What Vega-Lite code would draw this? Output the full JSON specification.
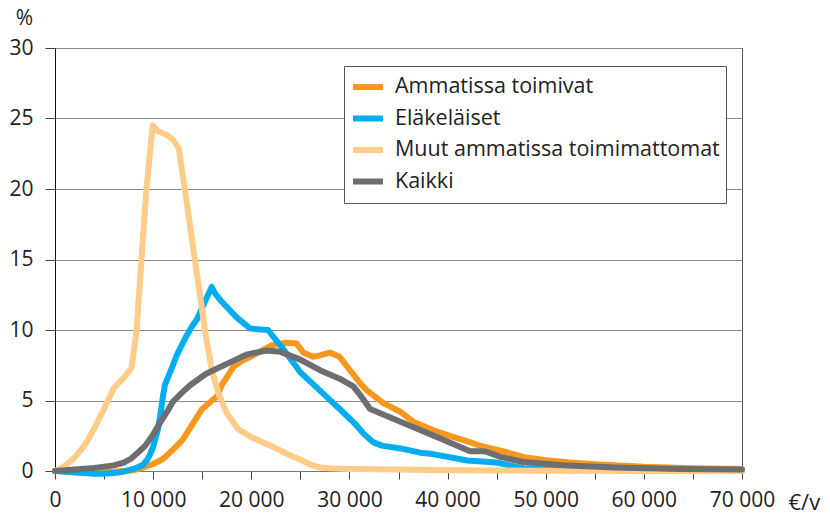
{
  "$schema": "https://vega.github.io/schema/vega-lite/v6.json",
  "width": 687,
  "height": 423,
  "autosize": {"type": "none"},
  "padding": {"left": 55, "top": 48, "right": 88, "bottom": 43},
  "background": "white",
  "config": {"view": {"stroke": "#555", "strokeWidth": 1}, "font": "Open Sans"},
  "data": {
    "values": [
      {"g":"Ammatissa toimivat","x":0,"y":0},{"g":"Ammatissa toimivat","x":2000,"y":0},{"g":"Ammatissa toimivat","x":4000,"y":-0.05},{"g":"Ammatissa toimivat","x":6000,"y":-0.05},{"g":"Ammatissa toimivat","x":7000,"y":0},{"g":"Ammatissa toimivat","x":8000,"y":0.05},{"g":"Ammatissa toimivat","x":9000,"y":0.25},{"g":"Ammatissa toimivat","x":10000,"y":0.5},{"g":"Ammatissa toimivat","x":11000,"y":0.85},{"g":"Ammatissa toimivat","x":12000,"y":1.5},{"g":"Ammatissa toimivat","x":13000,"y":2.2},{"g":"Ammatissa toimivat","x":14000,"y":3.3},{"g":"Ammatissa toimivat","x":15000,"y":4.4},{"g":"Ammatissa toimivat","x":16000,"y":5.0},{"g":"Ammatissa toimivat","x":16500,"y":5.3},{"g":"Ammatissa toimivat","x":17000,"y":6.1},{"g":"Ammatissa toimivat","x":18200,"y":7.4},{"g":"Ammatissa toimivat","x":19000,"y":7.8},{"g":"Ammatissa toimivat","x":19900,"y":8.1},{"g":"Ammatissa toimivat","x":21000,"y":8.5},{"g":"Ammatissa toimivat","x":22000,"y":8.9},{"g":"Ammatissa toimivat","x":23600,"y":9.1},{"g":"Ammatissa toimivat","x":24600,"y":9.05},{"g":"Ammatissa toimivat","x":25300,"y":8.4},{"g":"Ammatissa toimivat","x":26300,"y":8.1},{"g":"Ammatissa toimivat","x":27000,"y":8.2},{"g":"Ammatissa toimivat","x":28000,"y":8.4},{"g":"Ammatissa toimivat","x":29000,"y":8.1},{"g":"Ammatissa toimivat","x":30000,"y":7.2},{"g":"Ammatissa toimivat","x":31000,"y":6.3},{"g":"Ammatissa toimivat","x":31800,"y":5.7},{"g":"Ammatissa toimivat","x":33500,"y":4.8},{"g":"Ammatissa toimivat","x":35200,"y":4.2},{"g":"Ammatissa toimivat","x":36500,"y":3.5},{"g":"Ammatissa toimivat","x":38500,"y":2.9},{"g":"Ammatissa toimivat","x":40000,"y":2.55},{"g":"Ammatissa toimivat","x":42000,"y":2.1},{"g":"Ammatissa toimivat","x":43300,"y":1.8},{"g":"Ammatissa toimivat","x":45400,"y":1.45},{"g":"Ammatissa toimivat","x":47700,"y":1.0},{"g":"Ammatissa toimivat","x":50000,"y":0.76},{"g":"Ammatissa toimivat","x":52500,"y":0.6},{"g":"Ammatissa toimivat","x":55000,"y":0.48},{"g":"Ammatissa toimivat","x":60000,"y":0.3},{"g":"Ammatissa toimivat","x":65000,"y":0.2},{"g":"Ammatissa toimivat","x":70000,"y":0.15},

      {"g":"Eläkeläiset","x":0,"y":0},{"g":"Eläkeläiset","x":1000,"y":-0.05},{"g":"Eläkeläiset","x":2000,"y":-0.1},{"g":"Eläkeläiset","x":3000,"y":-0.15},{"g":"Eläkeläiset","x":4000,"y":-0.2},{"g":"Eläkeläiset","x":5000,"y":-0.2},{"g":"Eläkeläiset","x":6000,"y":-0.15},{"g":"Eläkeläiset","x":7000,"y":-0.05},{"g":"Eläkeläiset","x":8000,"y":0.15},{"g":"Eläkeläiset","x":9000,"y":0.45},{"g":"Eläkeläiset","x":9500,"y":0.9},{"g":"Eläkeläiset","x":10000,"y":1.7},{"g":"Eläkeläiset","x":10500,"y":3.0},{"g":"Eläkeläiset","x":10800,"y":4.3},{"g":"Eläkeläiset","x":11000,"y":5.3},{"g":"Eläkeläiset","x":11200,"y":6.1},{"g":"Eläkeläiset","x":11900,"y":7.3},{"g":"Eläkeläiset","x":12400,"y":8.2},{"g":"Eläkeläiset","x":13250,"y":9.4},{"g":"Eläkeläiset","x":14000,"y":10.3},{"g":"Eläkeläiset","x":14500,"y":10.8},{"g":"Eläkeläiset","x":15000,"y":11.6},{"g":"Eläkeläiset","x":15970,"y":13.05},{"g":"Eläkeläiset","x":16300,"y":12.6},{"g":"Eläkeläiset","x":17000,"y":12.0},{"g":"Eläkeläiset","x":18500,"y":10.9},{"g":"Eläkeläiset","x":19900,"y":10.1},{"g":"Eläkeläiset","x":21700,"y":10.0},{"g":"Eläkeläiset","x":23300,"y":8.6},{"g":"Eläkeläiset","x":25000,"y":7.0},{"g":"Eläkeläiset","x":27000,"y":5.7},{"g":"Eläkeläiset","x":29000,"y":4.4},{"g":"Eläkeläiset","x":30500,"y":3.4},{"g":"Eläkeläiset","x":31500,"y":2.6},{"g":"Eläkeläiset","x":32400,"y":2.05},{"g":"Eläkeläiset","x":33300,"y":1.8},{"g":"Eläkeläiset","x":35200,"y":1.6},{"g":"Eläkeläiset","x":37200,"y":1.3},{"g":"Eläkeläiset","x":38500,"y":1.2},{"g":"Eläkeläiset","x":42000,"y":0.75},{"g":"Eläkeläiset","x":45000,"y":0.6},{"g":"Eläkeläiset","x":47700,"y":0.2},{"g":"Eläkeläiset","x":50000,"y":0.15},{"g":"Eläkeläiset","x":55000,"y":0.1},{"g":"Eläkeläiset","x":60000,"y":0.05},{"g":"Eläkeläiset","x":70000,"y":0.0},

      {"g":"Muut ammatissa toimimattomat","x":0,"y":0},{"g":"Muut ammatissa toimimattomat","x":1000,"y":0.35},{"g":"Muut ammatissa toimimattomat","x":2000,"y":0.95},{"g":"Muut ammatissa toimimattomat","x":3000,"y":1.8},{"g":"Muut ammatissa toimimattomat","x":4000,"y":3.0},{"g":"Muut ammatissa toimimattomat","x":5000,"y":4.4},{"g":"Muut ammatissa toimimattomat","x":6000,"y":5.9},{"g":"Muut ammatissa toimimattomat","x":7000,"y":6.6},{"g":"Muut ammatissa toimimattomat","x":7800,"y":7.3},{"g":"Muut ammatissa toimimattomat","x":8300,"y":9.9},{"g":"Muut ammatissa toimimattomat","x":8800,"y":14.9},{"g":"Muut ammatissa toimimattomat","x":9300,"y":19.9},{"g":"Muut ammatissa toimimattomat","x":9950,"y":24.5},{"g":"Muut ammatissa toimimattomat","x":10500,"y":24.1},{"g":"Muut ammatissa toimimattomat","x":11500,"y":23.8},{"g":"Muut ammatissa toimimattomat","x":12000,"y":23.5},{"g":"Muut ammatissa toimimattomat","x":12600,"y":22.9},{"g":"Muut ammatissa toimimattomat","x":13250,"y":19.9},{"g":"Muut ammatissa toimimattomat","x":14270,"y":14.9},{"g":"Muut ammatissa toimimattomat","x":15000,"y":11.4},{"g":"Muut ammatissa toimimattomat","x":15300,"y":9.9},{"g":"Muut ammatissa toimimattomat","x":16000,"y":7.1},{"g":"Muut ammatissa toimimattomat","x":16650,"y":5.5},{"g":"Muut ammatissa toimimattomat","x":17500,"y":4.1},{"g":"Muut ammatissa toimimattomat","x":18700,"y":2.95},{"g":"Muut ammatissa toimimattomat","x":20000,"y":2.4},{"g":"Muut ammatissa toimimattomat","x":22250,"y":1.7},{"g":"Muut ammatissa toimimattomat","x":24000,"y":1.1},{"g":"Muut ammatissa toimimattomat","x":25000,"y":0.8},{"g":"Muut ammatissa toimimattomat","x":26000,"y":0.45},{"g":"Muut ammatissa toimimattomat","x":27000,"y":0.25},{"g":"Muut ammatissa toimimattomat","x":28000,"y":0.2},{"g":"Muut ammatissa toimimattomat","x":30000,"y":0.15},{"g":"Muut ammatissa toimimattomat","x":35000,"y":0.1},{"g":"Muut ammatissa toimimattomat","x":40000,"y":0.05},{"g":"Muut ammatissa toimimattomat","x":45000,"y":0.03},{"g":"Muut ammatissa toimimattomat","x":50000,"y":0.02},{"g":"Muut ammatissa toimimattomat","x":60000,"y":0.0},{"g":"Muut ammatissa toimimattomat","x":70000,"y":0.0},

      {"g":"Kaikki","x":0,"y":0},{"g":"Kaikki","x":2000,"y":0.1},{"g":"Kaikki","x":4000,"y":0.22},{"g":"Kaikki","x":6000,"y":0.4},{"g":"Kaikki","x":7000,"y":0.6},{"g":"Kaikki","x":7800,"y":0.9},{"g":"Kaikki","x":8600,"y":1.4},{"g":"Kaikki","x":9200,"y":1.8},{"g":"Kaikki","x":10000,"y":2.6},{"g":"Kaikki","x":10600,"y":3.3},{"g":"Kaikki","x":11500,"y":4.3},{"g":"Kaikki","x":12000,"y":4.9},{"g":"Kaikki","x":13000,"y":5.6},{"g":"Kaikki","x":13800,"y":6.1},{"g":"Kaikki","x":15400,"y":6.9},{"g":"Kaikki","x":17500,"y":7.6},{"g":"Kaikki","x":19500,"y":8.25},{"g":"Kaikki","x":21500,"y":8.55},{"g":"Kaikki","x":23000,"y":8.45},{"g":"Kaikki","x":25000,"y":7.9},{"g":"Kaikki","x":27000,"y":7.15},{"g":"Kaikki","x":29000,"y":6.55},{"g":"Kaikki","x":30400,"y":6.0},{"g":"Kaikki","x":31300,"y":5.2},{"g":"Kaikki","x":32100,"y":4.4},{"g":"Kaikki","x":35200,"y":3.5},{"g":"Kaikki","x":38600,"y":2.5},{"g":"Kaikki","x":42300,"y":1.4},{"g":"Kaikki","x":43800,"y":1.4},{"g":"Kaikki","x":45400,"y":1.0},{"g":"Kaikki","x":47700,"y":0.64},{"g":"Kaikki","x":51800,"y":0.4},{"g":"Kaikki","x":57000,"y":0.25},{"g":"Kaikki","x":63700,"y":0.15},{"g":"Kaikki","x":70000,"y":0.1}
    ]
  },
  "mark": {"type": "line", "strokeWidth": 6, "strokeCap": "round", "strokeJoin": "round", "interpolate": "linear"},
  "encoding": {
    "x": {
      "field": "x", "type": "quantitative",
      "scale": {"domain": [0, 70000], "nice": false, "zero": false},
      "axis": {
        "values": [0,5000,10000,15000,20000,25000,30000,35000,40000,45000,50000,55000,60000,65000,70000],
        "labelExpr": "datum.value % 10000 === 0 ? replace(format(datum.value, ','), ',', ' ') : ''",
        "grid": false, "domainColor": "#777", "tickColor": "#444", "tickSize": 8,
        "labelFontSize": 21, "labelColor": "#222", "labelPadding": 10, "labelFlush": false, "labelOverlap": false,
        "title": "€/v", "titleX": 733, "titleY": 31, "titleAlign": "left", "titleBaseline": "middle",
        "titleFontSize": 22, "titleFontWeight": "normal", "titleColor": "#222"
      }
    },
    "y": {
      "field": "y", "type": "quantitative",
      "scale": {"domain": [0, 30], "nice": false},
      "axis": {
        "values": [0,5,10,15,20,25,30],
        "grid": true, "gridColor": "#888", "gridWidth": 1.2,
        "domainColor": "#111", "tickColor": "#444", "tickSize": 10,
        "labelFontSize": 21, "labelColor": "#222", "labelPadding": 12,
        "title": "%", "titleAngle": 0, "titleX": -31, "titleY": -30, "titleAlign": "center", "titleBaseline": "middle",
        "titleFontSize": 21, "titleFontWeight": "normal", "titleColor": "#222"
      }
    },
    "color": {
      "field": "g", "type": "nominal",
      "scale": {
        "domain": ["Ammatissa toimivat", "Eläkeläiset", "Muut ammatissa toimimattomat", "Kaikki"],
        "range": ["#F7981D", "#00AEEF", "#FFCC8A", "#6D6E71"]
      },
      "legend": {
        "orient": "none", "legendX": 289, "legendY": 18, "title": null,
        "symbolType": "stroke", "symbolSize": 900, "symbolStrokeWidth": 6,
        "labelFontSize": 21.5, "labelColor": "#222", "labelOffset": 9, "labelLimit": 400,
        "padding": 6, "clipHeight": 30, "strokeColor": "#555", "fillColor": "white", "rowPadding": 1.5
      }
    }
  }
}
